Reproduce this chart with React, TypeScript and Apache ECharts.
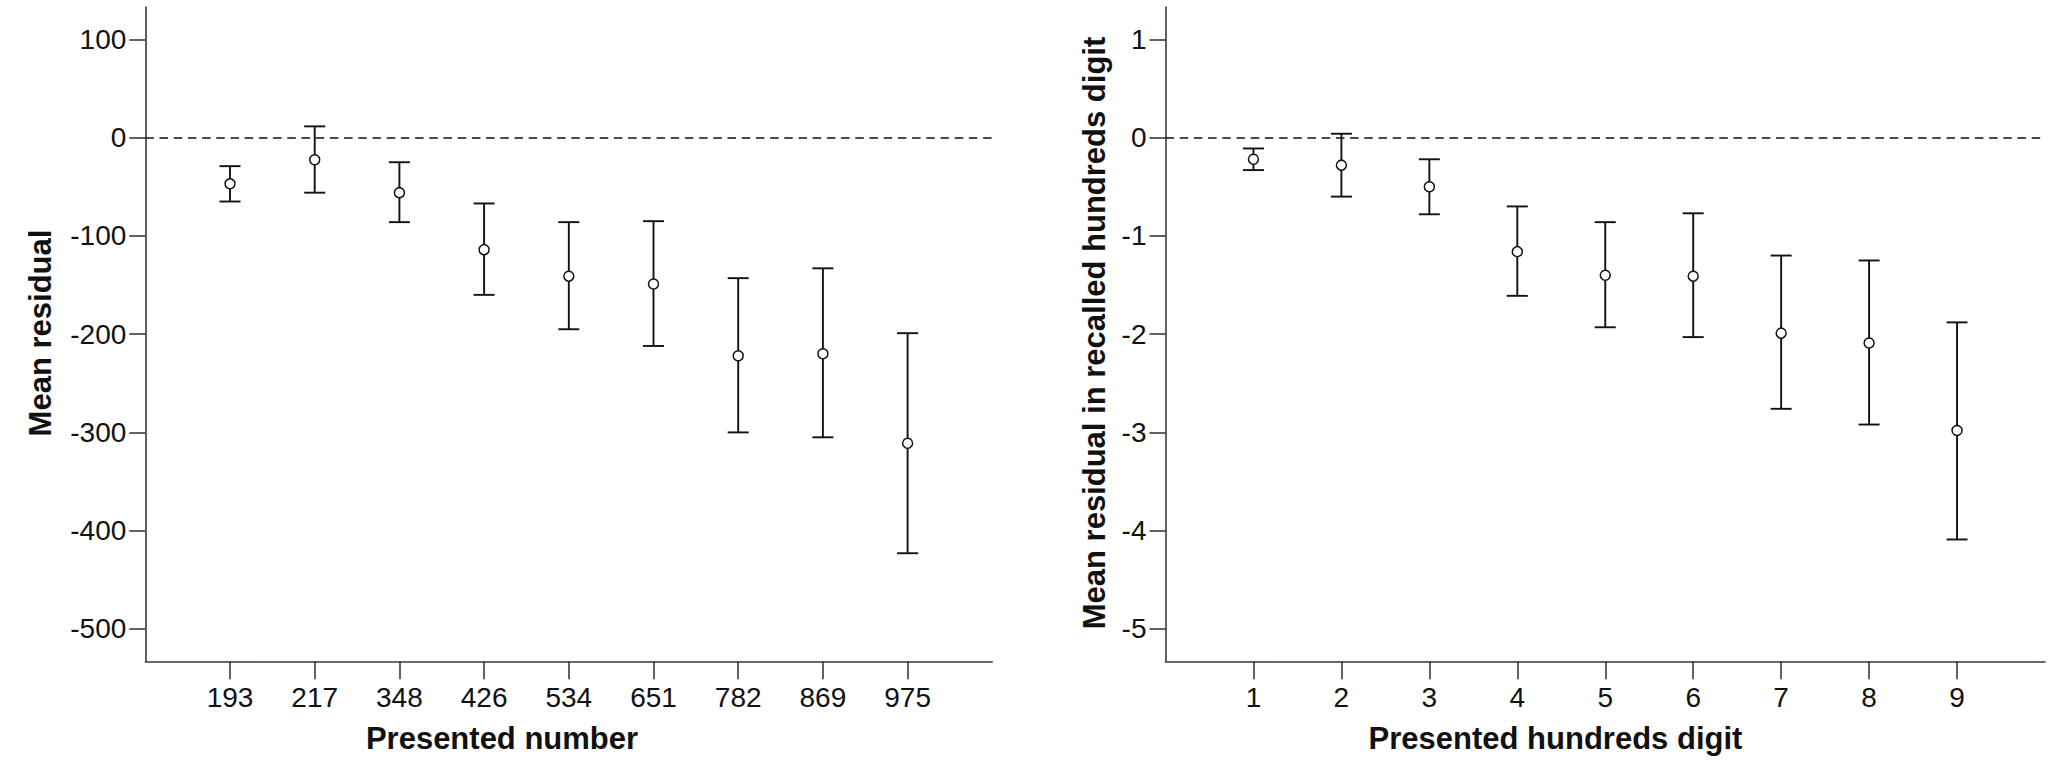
import { useEffect, useRef } from "react";
import * as echarts from "echarts";

const INK = "#111111";
const AXIS_INK = "#3a3a3a";
const FONT = "'Liberation Sans', Arial, sans-serif";

// left panel: presented three-digit numbers
const numberLabels = ["193", "217", "348", "426", "534", "651", "782", "869", "975"];
const numberMeans = [-47, -22.5, -56, -114, -141, -149, -222, -220, -311];
const numberUpper = [-29, 11.5, -25, -67, -86, -85, -143, -133, -199];
const numberLower = [-65, -56, -86, -160, -195, -212, -300, -305, -423];
const numberTicks = [100, 0, -100, -200, -300, -400, -500];

// right panel: presented hundreds digit
const digitLabels = ["1", "2", "3", "4", "5", "6", "7", "8", "9"];
const digitMeans = [-0.22, -0.28, -0.5, -1.16, -1.4, -1.41, -1.99, -2.09, -2.98];
const digitUpper = [-0.11, 0.04, -0.22, -0.7, -0.86, -0.77, -1.2, -1.25, -1.88];
const digitLower = [-0.33, -0.6, -0.78, -1.61, -1.93, -2.03, -2.76, -2.92, -4.09];
const digitTicks = [1, 0, -1, -2, -3, -4, -5];

const positions = [1, 2, 3, 4, 5, 6, 7, 8, 9];

function xAxisFor(gridIndex: number, labels: string[]) {
  return {
    type: "value" as const,
    gridIndex,
    min: 0,
    max: 10,
    splitLine: { show: false },
    // keep the axis at the bottom of the grid, not on y = 0
    axisLine: { show: true, onZero: false, lineStyle: { color: AXIS_INK, width: 1.6 } },
    axisTick: { show: true, length: 18, customValues: positions, lineStyle: { color: AXIS_INK, width: 1.6 } },
    axisLabel: {
      customValues: positions,
      margin: 22,
      color: INK,
      fontFamily: FONT,
      fontSize: 28,
      formatter: (v: number) => labels[Math.round(v) - 1] ?? "",
    },
  };
}

function yAxisFor(gridIndex: number, min: number, max: number, ticks: number[]) {
  return {
    type: "value" as const,
    gridIndex,
    min,
    max,
    splitLine: { show: false },
    axisLine: { show: true, onZero: false, lineStyle: { color: AXIS_INK, width: 1.6 } },
    axisTick: { show: true, length: 16, customValues: ticks, lineStyle: { color: AXIS_INK, width: 1.6 } },
    // labels sit a few px below their tick in the original
    axisLabel: { customValues: ticks, margin: 19, padding: [9, 0, 0, 0], color: INK, fontFamily: FONT, fontSize: 28 },
  };
}

// vertical bar with end caps, drawn through the axis scales
function errorBars(axisIndex: number, lower: number[], upper: number[]) {
  return {
    type: "custom" as const,
    xAxisIndex: axisIndex,
    yAxisIndex: axisIndex,
    silent: true,
    z: 2,
    encode: { x: 0, y: [1, 2] },
    data: positions.map((p, i) => [p, lower[i], upper[i]]),
    renderItem: (_params: unknown, api: any) => {
      const x = api.value(0);
      const top = api.coord([x, api.value(2)]);
      const bot = api.coord([x, api.value(1)]);
      const hw = 10.5;
      const style = { stroke: INK, lineWidth: 1.9 };
      return {
        type: "group",
        children: [
          { type: "line", shape: { x1: top[0], y1: top[1], x2: bot[0], y2: bot[1] }, style },
          { type: "line", shape: { x1: top[0] - hw, y1: top[1], x2: top[0] + hw, y2: top[1] }, style },
          { type: "line", shape: { x1: bot[0] - hw, y1: bot[1], x2: bot[0] + hw, y2: bot[1] }, style },
        ],
      };
    },
  };
}

function means(axisIndex: number, values: number[]) {
  return {
    type: "scatter" as const,
    xAxisIndex: axisIndex,
    yAxisIndex: axisIndex,
    silent: true,
    z: 3,
    symbol: "circle",
    symbolSize: 10,
    itemStyle: { color: "#ffffff", borderColor: INK, borderWidth: 1.5, opacity: 1 },
    data: positions.map((p, i) => [p, values[i]]),
    markLine: {
      silent: true,
      symbol: ["none", "none"],
      label: { show: false },
      lineStyle: { type: [8.5, 5.7], color: INK, width: 1.6 },
      data: [{ yAxis: 0 }],
    },
  };
}

function titleText(text: string, x: number, y: number, rotation = 0) {
  return {
    type: "text" as const,
    x,
    y,
    rotation,
    style: {
      text,
      fill: INK,
      font: `bold 31px ${FONT}`,
      textAlign: "center",
      textVerticalAlign: "middle",
    },
  };
}

export default function App() {
  const elRef = useRef<HTMLDivElement>(null);

  useEffect(() => {
    const el = elRef.current;
    if (!el) return;
    const chart = echarts.init(el, undefined, { renderer: "svg" });
    chart.setOption({
      animation: false,
      backgroundColor: "#ffffff",
      grid: [
        { left: 145.3, top: 7, width: 847, height: 654.3 },
        { left: 1165.5, top: 7, width: 879.5, height: 654.3 },
      ],
      xAxis: [xAxisFor(0, numberLabels), xAxisFor(1, digitLabels)],
      yAxis: [yAxisFor(0, -533, 133, numberTicks), yAxisFor(1, -5.33, 1.33, digitTicks)],
      series: [
        errorBars(0, numberLower, numberUpper),
        means(0, numberMeans),
        errorBars(1, digitLower, digitUpper),
        means(1, digitMeans),
      ],
      graphic: [
        titleText("Presented number", 502, 738.5),
        titleText("Presented hundreds digit", 1555.5, 738.5),
        titleText("Mean residual", 40, 333, Math.PI / 2),
        titleText("Mean residual in recalled hundreds digit", 1094, 333, Math.PI / 2),
      ],
    });
    return () => chart.dispose();
  }, []);

  return <div ref={elRef} style={{ position: "absolute", left: 0, top: 0, width: 2055, height: 769 }} />;
}
